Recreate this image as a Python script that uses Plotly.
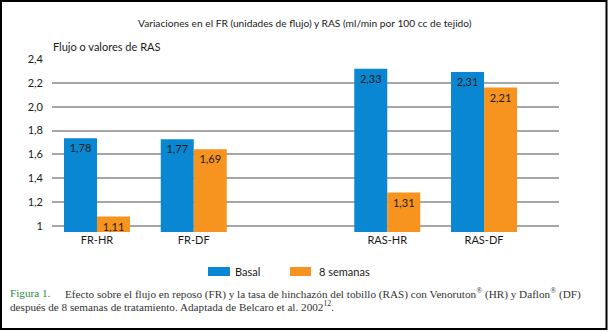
import plotly.graph_objects as go

categories = ["FR-HR", "FR-DF", "RAS-HR", "RAS-DF"]
cat_x = [0, 1, 3, 4]
basal_values = [1.735, 1.727, 2.318, 2.29]
week8_values = [1.079, 1.643, 1.281, 2.161]
basal_labels = ["1,78", "1,77", "2,33", "2,31"]
week8_labels = ["1,11", "1,69", "1,31", "2,21"]
y_tickvals = [1, 1.2, 1.4, 1.6, 1.8, 2.0, 2.2, 2.4]
y_ticktext = ["1", "1,2", "1,4", "1,6", "1,8", "2,0", "2,2", "2,4"]
series_names = ["Basal", "8 semanas"]

BLUE = "#0a87d2"
ORANGE = "#f7941f"
W, H = 609, 332
ML, MR, MT, MB = 52, 50, 59, 100
PW, PH = W - ML - MR, H - MT - MB

def px(x):
    return (x - ML) / PW

def py(y):
    return (H - MB - y) / PH

SANS = "Lato, 'Open Sans', sans-serif"
SERIF = "'Liberation Serif', 'DejaVu Serif', serif"

fig = go.Figure()
for vals, labels, name, col in [(basal_values, basal_labels, series_names[0], BLUE),
                                (week8_values, week8_labels, series_names[1], ORANGE)]:
    fig.add_trace(go.Bar(x=cat_x, y=vals, name=name, marker_color=col,
                         marker_line_width=0, text=labels, textposition="inside",
                         insidetextanchor="end", textangle=0, constraintext="none",
                         cliponaxis=False,
                         textfont=dict(color="#1a1a1a", size=11, family=SANS)))

fig.update_layout(
    width=W, height=H, margin=dict(l=ML, r=MR, t=MT, b=MB),
    paper_bgcolor="white", plot_bgcolor="white",
    barmode="group", bargap=0.318, bargroupgap=0,
    showlegend=False,
    font=dict(family=SANS, size=11, color="#1a1a1a"),
    xaxis=dict(range=[-0.465, 4.775], tickvals=cat_x, ticktext=categories,
               showgrid=False, zeroline=False, showline=False, ticks="",
               tickfont=dict(size=11, color="#1a1a1a")),
    yaxis=dict(range=[0.95, 2.4], tickvals=y_tickvals, ticktext=y_ticktext,
               showgrid=True, gridcolor="#a6a6a6", gridwidth=1.5, zeroline=False,
               showline=False, ticks="", ticklabelstandoff=8,
               tickfont=dict(size=11, color="#1a1a1a")),
)

ann = []
ann.append(dict(text="Variaciones en el FR (unidades de flujo) y RAS (ml/min por 100 cc de tejido)",
                x=px(305), y=py(23), xref="paper", yref="paper", showarrow=False,
                xanchor="center", yanchor="middle", font=dict(size=10.2, family=SANS, color="#1a1a1a")))
ann.append(dict(text="Flujo o valores de RAS", x=px(51), y=py(46.5), xref="paper", yref="paper",
                showarrow=False, xanchor="left", yanchor="middle",
                font=dict(size=11, family=SANS, color="#1a1a1a")))
# legend
shapes = []
for (x0, x1, col, tx, name) in [(208, 230, BLUE, 233, series_names[0]), (290, 311, ORANGE, 317, series_names[1])]:
    shapes.append(dict(type="rect", xref="paper", yref="paper", x0=px(x0), x1=px(x1),
                       y0=py(276), y1=py(267), fillcolor=col, line_width=0))
    ann.append(dict(text=name, x=px(tx), y=py(271.5), xref="paper", yref="paper", showarrow=False,
                    xanchor="left", yanchor="middle", font=dict(size=11, family=SANS, color="#1a1a1a")))
# caption
ann.append(dict(text="Figura 1.", x=px(8), y=py(293), xref="paper", yref="paper", showarrow=False,
                xanchor="left", yanchor="middle", font=dict(size=11.2, family=SERIF, color="#2a8a45")))
ann.append(dict(text="Efecto sobre el flujo en reposo (FR) y la tasa de hinchazón del tobillo (RAS) con Venoruton<sup>®</sup> (HR) y Daflon<sup>®</sup> (DF)",
                x=px(63), y=py(293), xref="paper", yref="paper", showarrow=False,
                xanchor="left", yanchor="middle", font=dict(size=11.2, family=SERIF, color="#333333")))
ann.append(dict(text="después de 8 semanas de tratamiento. Adaptada de Belcaro et al. 2002<sup>12</sup>.",
                x=px(8), y=py(306), xref="paper", yref="paper", showarrow=False,
                xanchor="left", yanchor="middle", font=dict(size=11.2, family=SERIF, color="#333333")))
# frame
shapes.append(dict(type="rect", xref="paper", yref="paper", x0=px(1), x1=px(606.5),
                   y0=py(329), y1=py(1), line=dict(color="black", width=2), fillcolor="rgba(0,0,0,0)"))

fig.update_layout(annotations=ann, shapes=shapes)
fig.write_html("out.html")
